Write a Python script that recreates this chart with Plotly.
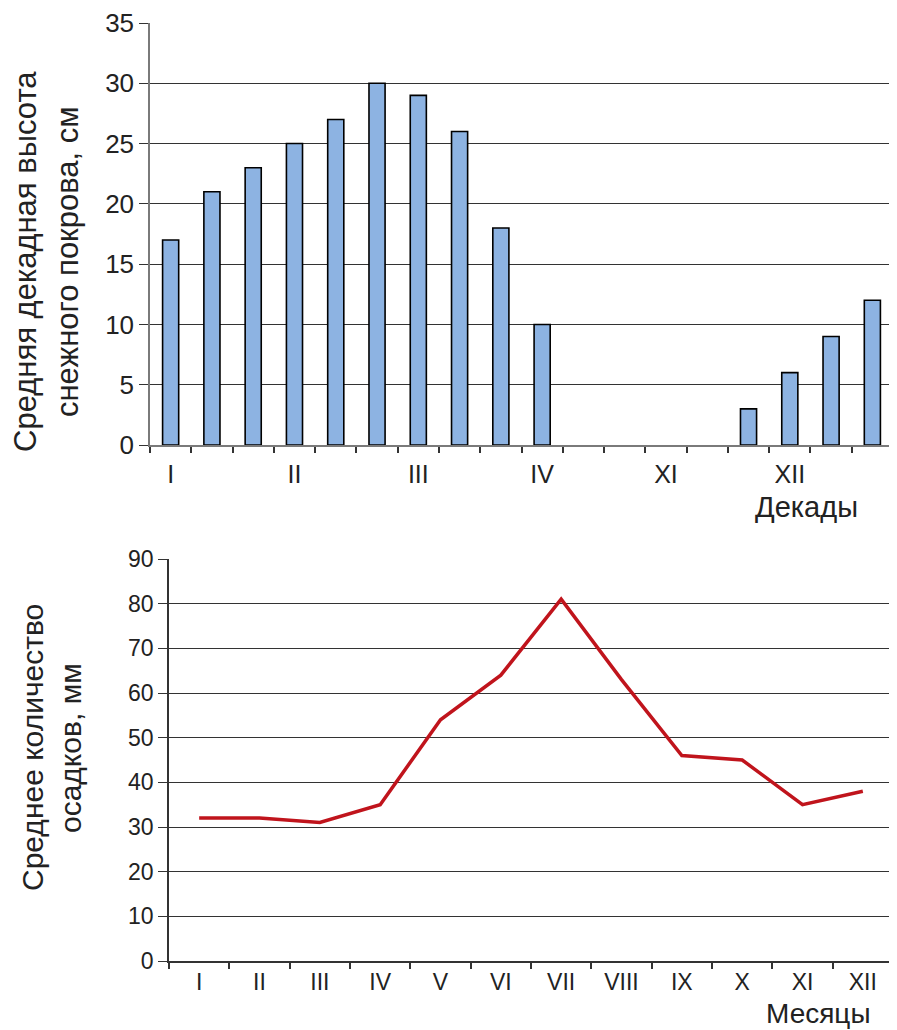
import plotly.graph_objects as go

# ---- data ----
decade_month_labels = ["I", "II", "III", "IV", "XI", "XII"]
decades_per_month = 3
snow_depth = [17, 21, 23, 25, 27, 30, 29, 26, 18, 10, 0, 0, 0, 0, 3, 6, 9, 12]

months = ["I", "II", "III", "IV", "V", "VI", "VII", "VIII", "IX", "X", "XI", "XII"]
precip = [32, 32, 31, 35, 54, 64, 81, 63, 46, 45, 35, 38]

snow_y_ticks = [0, 5, 10, 15, 20, 25, 30, 35]
precip_y_ticks = [0, 10, 20, 30, 40, 50, 60, 70, 80, 90]

W, H = 897, 1030
OFF = 8  # page body margin
FONT = "Liberation Sans, Arial, sans-serif"

def px_x(p):
    return (p - OFF) / W

def px_y(p):
    return 1 - (p - OFF) / H

decade_idx = list(range(len(snow_depth)))
label_pos = [i * decades_per_month for i in range(len(decade_month_labels))]
# zero-height bars show no outline
bar_outline = [1.6 if v > 0 else 0 for v in snow_depth]

fig = go.Figure()

fig.add_trace(go.Bar(
    x=decade_idx, y=snow_depth, width=0.39,
    marker=dict(color="#8DB3E2", line=dict(color="#000000", width=bar_outline)),
    xaxis="x", yaxis="y", showlegend=False,
))

fig.add_trace(go.Scatter(
    x=months, y=precip, mode="lines",
    line=dict(color="#C0141C", width=3.5),
    xaxis="x2", yaxis="y2", showlegend=False,
))

grid = "#333333"
axline = "#7a7a7a"

fig.update_layout(
    width=W, height=H, autosize=False,
    margin=dict(l=0, r=0, t=0, b=0, autoexpand=False),
    paper_bgcolor="white", plot_bgcolor="white",
    font=dict(family=FONT, color="#222222"),
    xaxis=dict(
        domain=[px_x(150), px_x(893)],
        anchor="y",
        range=[-0.5, len(snow_depth) - 0.5],
        tickmode="array", tickvals=label_pos, ticktext=decade_month_labels,
        ticks="", showgrid=False, zeroline=False,
        showline=True, linecolor=axline, linewidth=1.5,
        tickfont=dict(size=25, color="#222222"),
        ticklabelstandoff=6,
        minor=dict(tickmode="linear", tick0=-0.5, dtick=1, ticks="outside",
                   ticklen=6, tickcolor="#333333", tickwidth=1.5, showgrid=False),
    ),
    yaxis=dict(
        domain=[px_y(445), px_y(23)],
        anchor="x",
        range=[0, 35],
        tickmode="array", tickvals=snow_y_ticks,
        ticks="outside", ticklen=9, tickcolor=grid, tickwidth=1,
        showgrid=True, gridcolor=grid, gridwidth=1.2,
        zeroline=False, showline=True, linecolor=axline, linewidth=1.5,
        tickfont=dict(size=26, color="#222222"),
    ),
    xaxis2=dict(
        domain=[px_x(169), px_x(893)],
        anchor="y2",
        type="category",
        range=[-0.5, len(months) - 0.5],
        tickson="boundaries", ticks="outside", ticklen=6,
        tickcolor="#333333", tickwidth=1.5,
        showgrid=False, zeroline=False,
        showline=True, linecolor="#333333", linewidth=1.5,
        tickfont=dict(size=23, color="#222222"),
    ),
    yaxis2=dict(
        domain=[px_y(961), px_y(559)],
        anchor="x2",
        range=[0, 90],
        tickmode="array", tickvals=precip_y_ticks,
        ticks="outside", ticklen=9, tickcolor=grid, tickwidth=1,
        showgrid=True, gridcolor=grid, gridwidth=1.2,
        zeroline=False, showline=True, linecolor="#333333", linewidth=1.5,
        tickfont=dict(size=23, color="#222222"),
    ),
)

annotations = [
    dict(text="Средняя декадная высота", x=px_x(25), y=px_y(262), textangle=-90, size=31),
    dict(text="снежного покрова, см", x=px_x(67), y=px_y(262), textangle=-90, size=31),
    dict(text="Декады", x=px_x(806), y=px_y(507), textangle=0, size=29),
    dict(text="Среднее количество", x=px_x(32), y=px_y(748), textangle=-90, size=30),
    dict(text="осадков, мм", x=px_x(70), y=px_y(748), textangle=-90, size=30),
    dict(text="Месяцы", x=px_x(818), y=px_y(1013), textangle=0, size=28),
]
for a in annotations:
    size = a.pop("size")
    fig.add_annotation(xref="paper", yref="paper", xanchor="center", yanchor="middle",
                       showarrow=False,
                       font=dict(family=FONT, size=size, color="#222222"), **a)

fig.write_html("out.html")
